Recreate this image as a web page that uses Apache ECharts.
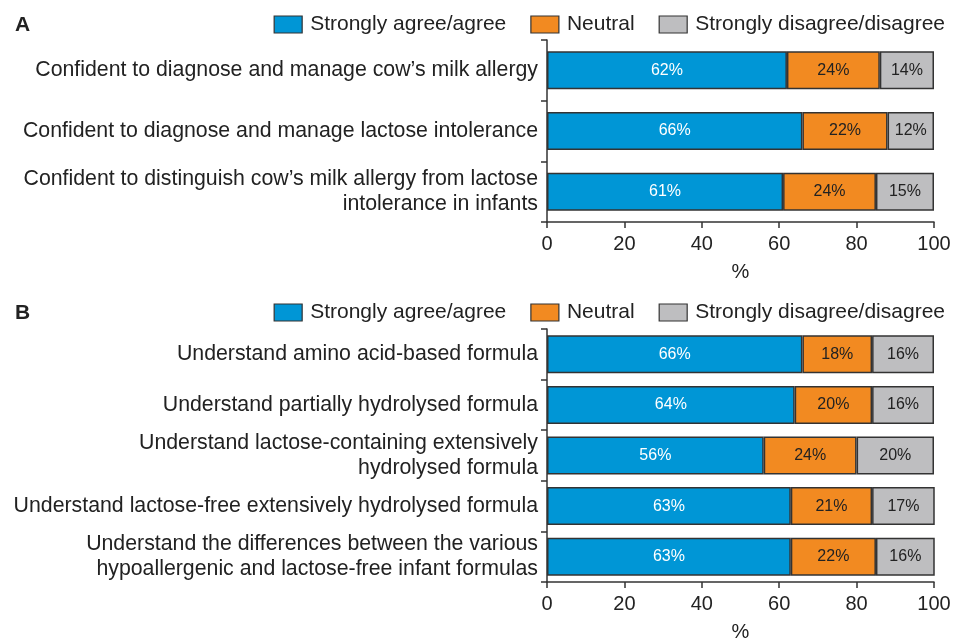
<!DOCTYPE html>
<html>
<head>
<meta charset="utf-8">
<script src="https://cdn.jsdelivr.net/npm/echarts@6/dist/echarts.min.js"></script>
<style>
html, body { margin: 0; padding: 0; background: #fff; }
#main { width: 967px; height: 643px; }
</style>
</head>
<body>
<div id="main"></div>
<script>
// 数据
var seriesNames = ['Strongly agree/agree', 'Neutral', 'Strongly disagree/disagree'];
var catsA = [
    'Confident to diagnose and manage cow\u2019s milk allergy',
    'Confident to diagnose and manage lactose intolerance',
    'Confident to distinguish cow\u2019s milk allergy from lactose\nintolerance in infants'
];
var agreeA = [62, 66, 61];
var neutralA = [24, 22, 24];
var disagreeA = [14, 12, 15];

var catsB = [
    'Understand amino acid-based formula',
    'Understand partially hydrolysed formula',
    'Understand lactose-containing extensively\nhydrolysed formula',
    'Understand lactose-free extensively hydrolysed formula',
    'Understand the differences between the various\nhypoallergenic and lactose-free infant formulas'
];
var agreeB = [66, 64, 56, 63, 63];
var neutralB = [18, 20, 24, 21, 22];
var disagreeB = [16, 16, 20, 17, 16];

var xTicks = [0, 20, 40, 60, 80, 100];

var colors = ['#0096d6', '#f28a21', '#bebec0'];
var font = 'Liberation Sans';

var myChart = echarts.init(document.getElementById('main'));

function xAxisOf(idx) {
    return {
        type: 'value', gridIndex: idx, min: xTicks[0], max: xTicks[xTicks.length - 1], interval: 20,
        name: '%', nameLocation: 'middle', nameGap: 40,
        nameTextStyle: { fontFamily: font, fontSize: 20, color: '#222' },
        axisLine: { show: true, lineStyle: { color: '#333', width: 1.5 } },
        axisTick: { show: true, length: 6, lineStyle: { color: '#333', width: 1.5 } },
        axisLabel: { fontFamily: font, fontSize: 20, color: '#222', margin: 12 },
        splitLine: { show: false }
    };
}
function yAxisOf(idx, cats) {
    return {
        type: 'category', gridIndex: idx, data: cats, inverse: true,
        axisLine: { show: true, lineStyle: { color: '#333', width: 1.5 } },
        axisTick: { show: true, length: 6, lineStyle: { color: '#333', width: 1.5 } },
        axisLabel: { fontFamily: font, fontSize: 21.3, color: '#222', margin: 9, lineHeight: 25, align: 'right' }
    };
}
function bar(name, idx, data, color, labelColor) {
    return {
        name: name, type: 'bar', stack: 'g' + idx, xAxisIndex: idx, yAxisIndex: idx,
        barWidth: 38, data: data,
        itemStyle: { color: color, borderColor: '#333', borderWidth: 1.5 },
        label: { show: true, position: 'inside', formatter: '{c}%', fontFamily: font, fontSize: 16, color: labelColor },
        animation: false
    };
}
function legendAt(top) {
    return {
        top: top, right: 17, itemWidth: 28, itemHeight: 17, itemGap: 24, icon: 'rect',
        data: seriesNames,
        textStyle: { fontFamily: font, fontSize: 21, color: '#222', padding: [0, 0, 0, 3] },
        itemStyle: { borderColor: '#333', borderWidth: 1.2 }
    };
}

var option = {
    backgroundColor: '#fff',
    color: colors,
    title: [
        { text: 'A', left: 10, top: 10, textStyle: { fontFamily: font, fontSize: 21, fontWeight: 'bold', color: '#222' } },
        { text: 'B', left: 10, top: 298, textStyle: { fontFamily: font, fontSize: 21, fontWeight: 'bold', color: '#222' } }
    ],
    legend: [legendAt(9), legendAt(297)],
    grid: [
        { left: 547, right: 33, top: 40, height: 182 },
        { left: 547, right: 33, top: 329, height: 257 }
    ],
    xAxis: [xAxisOf(0), xAxisOf(1)],
    yAxis: [yAxisOf(0, catsA), yAxisOf(1, catsB)],
    series: [
        bar(seriesNames[0], 0, agreeA, colors[0], '#fff'),
        bar(seriesNames[1], 0, neutralA, colors[1], '#222'),
        bar(seriesNames[2], 0, disagreeA, colors[2], '#222'),
        bar(seriesNames[0], 1, agreeB, colors[0], '#fff'),
        bar(seriesNames[1], 1, neutralB, colors[1], '#222'),
        bar(seriesNames[2], 1, disagreeB, colors[2], '#222')
    ]
};
myChart.setOption(option);
window.onresize = function () { myChart.resize(); };
</script>
</body>
</html>
